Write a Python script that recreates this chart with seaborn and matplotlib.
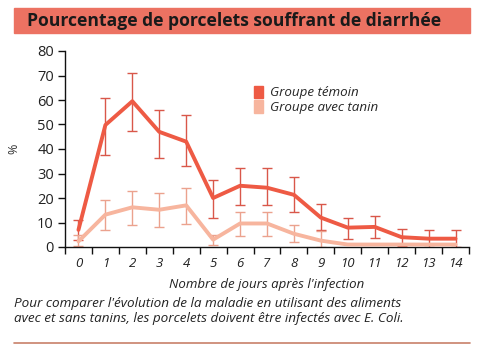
import matplotlib
matplotlib.use("Agg")
import matplotlib.pyplot as plt
import seaborn as sns
import pandas as pd
import numpy as np
from matplotlib.patches import Rectangle
from matplotlib.lines import Line2D

days = list(range(15))
temoin = [7, 49.8, 59.5, 47, 43, 20, 25, 24.2, 21.3, 12, 7.9, 8.2, 4, 3.4, 3.4]
temoin_hi = [11, 61, 71, 56, 54, 27.5, 32.4, 32.4, 28.5, 17.4, 12, 12.6, 7.5, 6.8, 6.8]
temoin_lo = [3, 37.5, 47.5, 36.5, 33, 12, 17, 17, 14.3, 6.8, 3.4, 3.5, 0.5, 0, 0]
tanin = [2.3, 13.2, 16.2, 15.2, 17, 3, 9.6, 9.6, 5.4, 2.6, 1, 1, 1, 1, 1]
tanin_hi = [4.8, 19, 23, 22, 24, 4.8, 14.1, 14.1, 8.8, 6.4, 1, 1, 1, 1, 1]
tanin_lo = [0.3, 7, 9, 8, 9.5, 1, 4.3, 4.3, 2, 0, 1, 1, 1, 1, 1]
labels = ["Groupe témoin", "Groupe avec tanin"]

title = "Pourcentage de porcelets souffrant de diarrhée"
xlabel = "Nombre de jours après l'infection"
caption = ("Pour comparer l'évolution de la maladie en utilisant des aliments\n"
           "avec et sans tanins, les porcelets doivent être infectés avec E. Coli.")

c_tem, c_tem_err = "#EE5A44", "#D9574A"
c_tan, c_tan_err = "#F7B59E", "#EBA28E"
band = "#EC7262"

sns.set_theme(style="white")
plt.rcParams['font.family'] = ['Open Sans', 'DejaVu Sans']

fig = plt.figure(figsize=(4.8, 3.48), dpi=100)
ax = fig.add_axes([65/480, 1-247/348, (469-65)/480, (247-51)/348])

df = pd.DataFrame({"day": days * 2,
                   "val": temoin + tanin,
                   "grp": [labels[0]] * 15 + [labels[1]] * 15})

for vals, hi, lo, ce in [(temoin, temoin_hi, temoin_lo, c_tem_err), (tanin, tanin_hi, tanin_lo, c_tan_err)]:
    v = np.array(vals); h = np.array(hi); l = np.array(lo)
    m = (h - l) > 0.01
    ax.errorbar(np.array(days)[m], v[m], yerr=[(v - l)[m], (h - v)[m]], fmt="none",
                ecolor=ce, elinewidth=1.0, capsize=3.5, capthick=1.0, zorder=2)

sns.lineplot(data=df, x="day", y="val", hue="grp", palette=[c_tem, c_tan],
             linewidth=2.8, ax=ax, legend=False, zorder=3)

ax.set_xlim(-0.5, 14.5)
ax.set_ylim(0, 80)
ax.set_yticks(range(0, 81, 10))
ax.set_xticks(np.arange(-0.5, 15, 1))
ax.set_xticklabels([])
ax.set_xticks(days, minor=True)
ax.set_xticklabels([str(d) for d in days], minor=True, fontstyle="italic", fontsize=9.5, color="#222222")
ax.tick_params(axis="x", which="minor", length=0, pad=7)
ax.tick_params(axis="x", which="major", length=5, width=1, color="#111111", direction="out")
ax.tick_params(axis="y", length=5, width=1, color="#111111", direction="out", labelsize=10.5, labelcolor="#222222", pad=3)
ax.tick_params(bottom=True, left=True, which="both")
for s in ["top", "right"]:
    ax.spines[s].set_visible(False)
for s in ["left", "bottom"]:
    ax.spines[s].set_color("#111111")
    ax.spines[s].set_linewidth(1.0)
ax.set_xlabel(xlabel, fontstyle="italic", fontsize=9.5, color="#222222", labelpad=6)
ax.set_ylabel("%", fontsize=9, color="#333333", labelpad=12)

handles = [Rectangle((0, 0), 1, 1, color=c_tem), Rectangle((0, 0), 1, 1, color=c_tan)]
leg = ax.legend(handles, labels, loc="upper left", bbox_to_anchor=(0.455, 0.85), frameon=False,
                prop={"style": "italic", "size": 9.6}, handlelength=0.7, handleheight=1.05,
                handletextpad=0.5, labelspacing=0.05, borderaxespad=0)

fig.patches.append(Rectangle((14/480, 1-33/348), (470-14)/480, 25/348, transform=fig.transFigure,
                             color=band, zorder=0))
fig.text(27/480, 1-21/348, title, fontsize=12.6, fontweight="bold", color="#1a1a1a", va="center", ha="left")
fig.text(14/480, 1-297/348, caption, fontsize=9.7, fontstyle="italic", color="#222222", va="top", ha="left",
         linespacing=1.2)
fig.lines.append(Line2D([14/480, 470/480], [1-343/348, 1-343/348], transform=fig.transFigure,
                        color="#C8806A", linewidth=1.2))

fig.savefig("out.png", dpi=100)
